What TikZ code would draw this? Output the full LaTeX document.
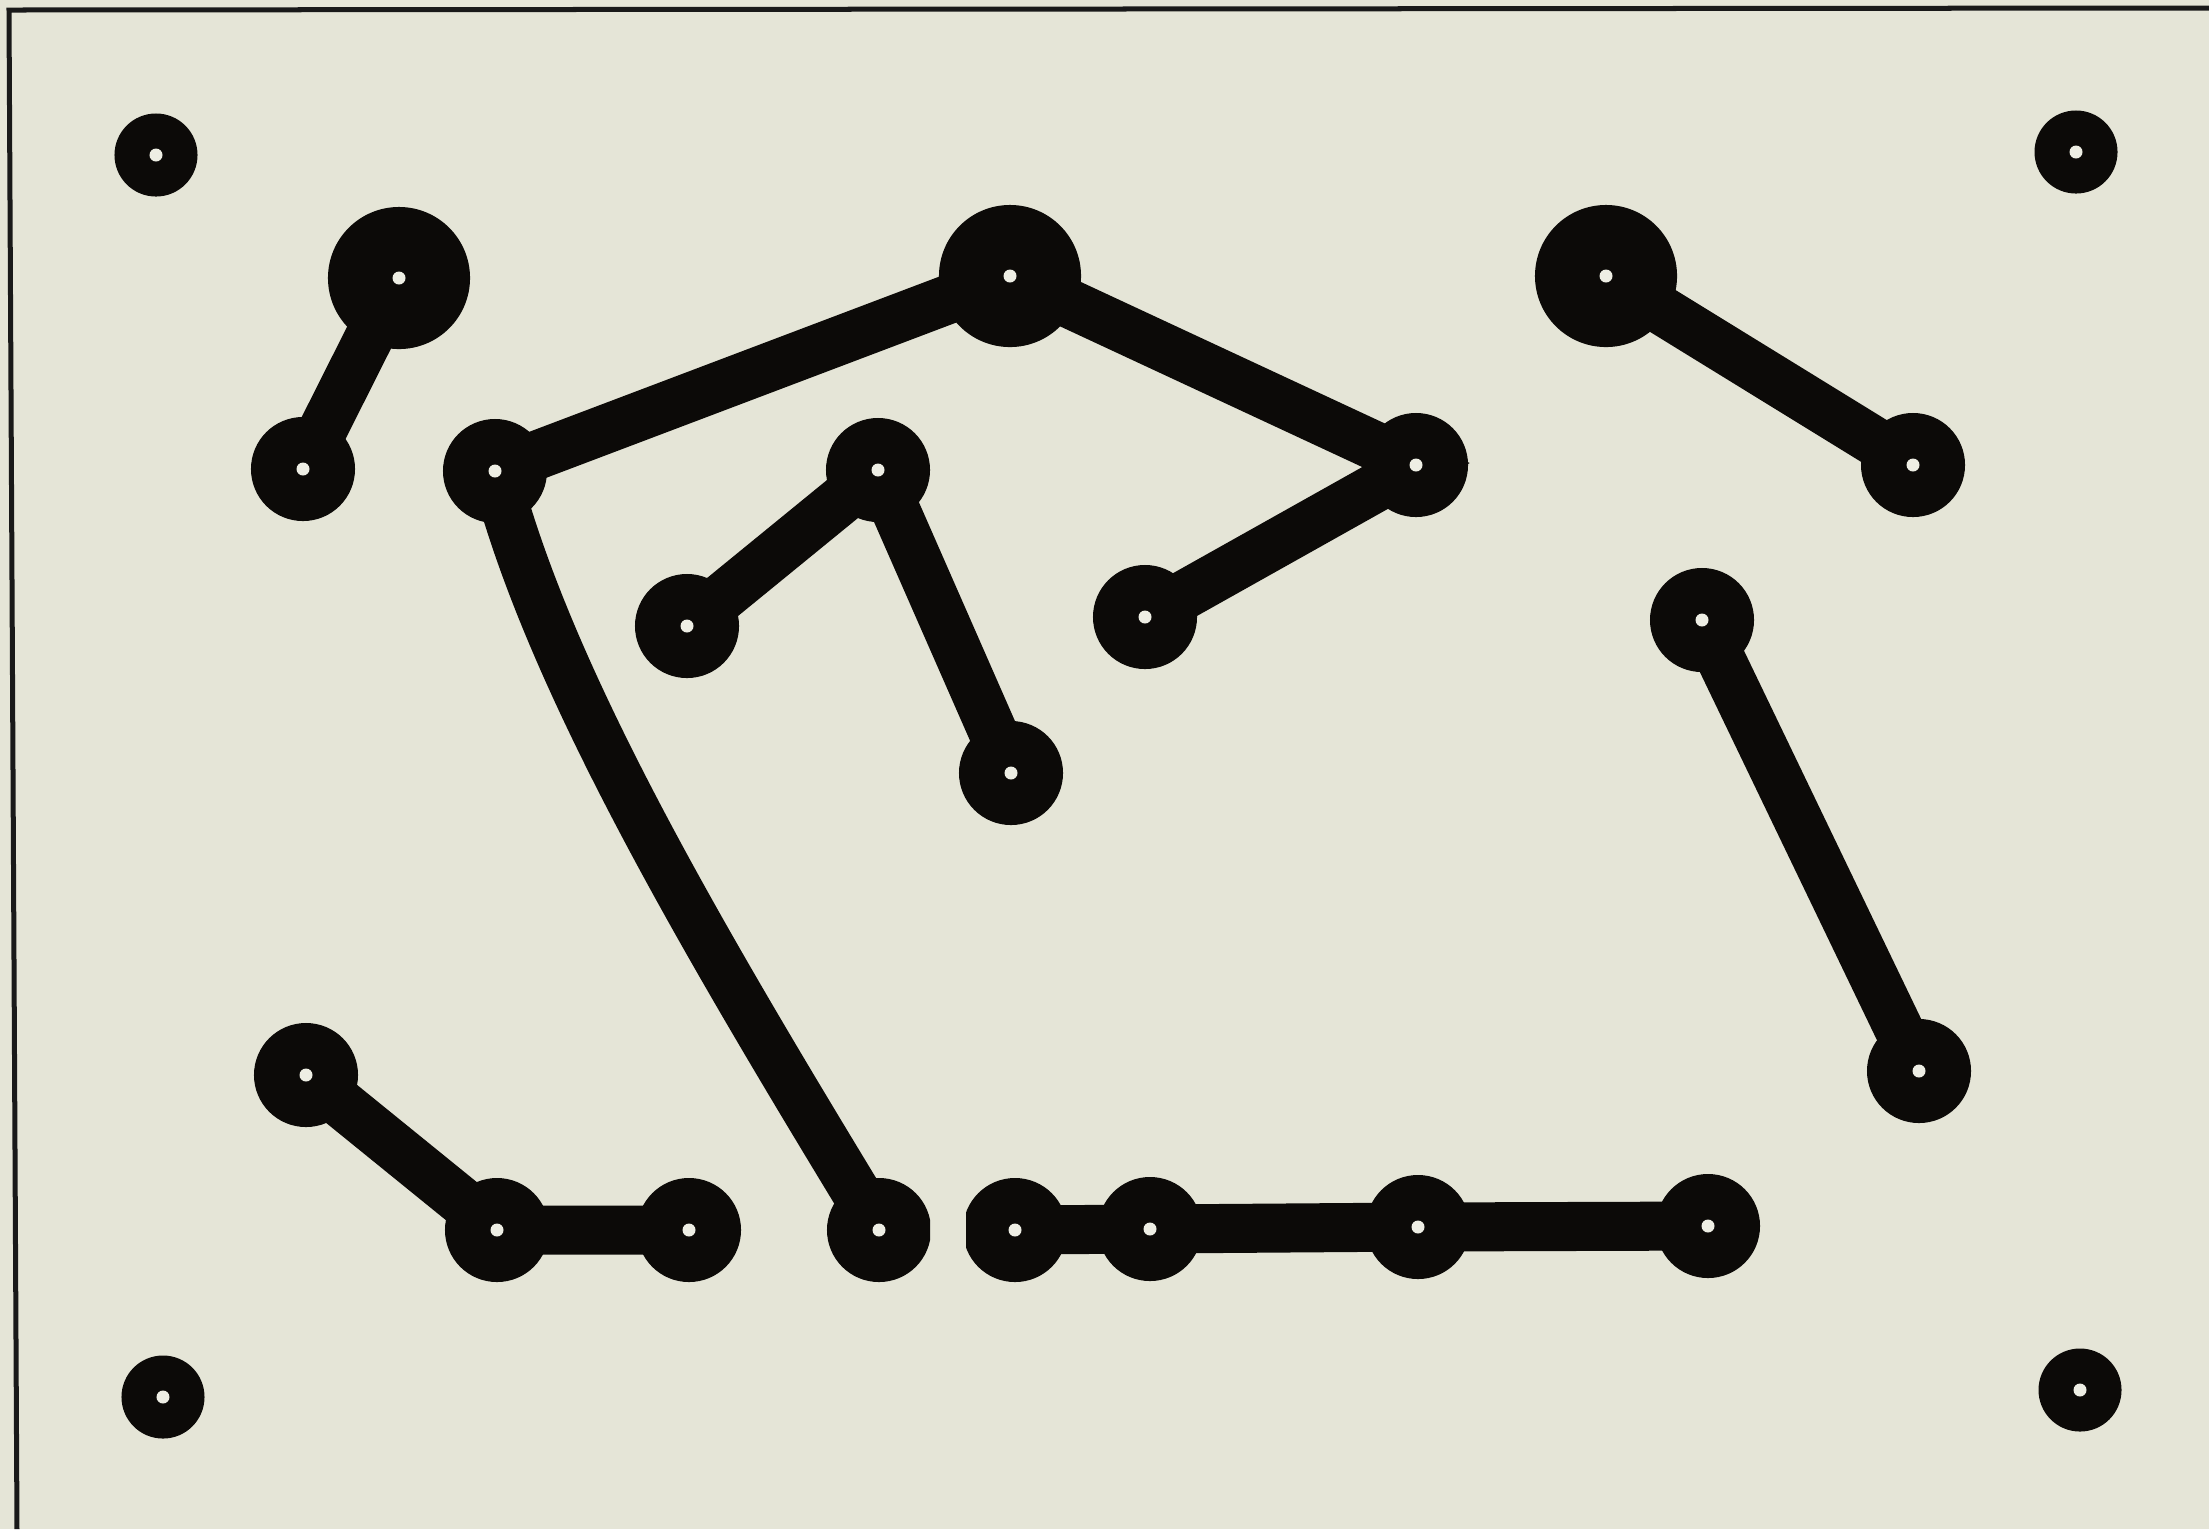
\documentclass[tikz,border=0pt]{standalone}
\definecolor{board}{RGB}{229,229,215}
\definecolor{padblack}{RGB}{12,10,8}
\definecolor{holecol}{RGB}{238,238,228}
\begin{document}
\begin{tikzpicture}[x=0.01cm,y=-0.01cm,
  pad/.style={circle,fill=padblack,inner sep=0pt,minimum size=1.04cm},
  bigpad/.style={pad,minimum size=1.42cm},
  mount/.style={pad,minimum size=0.83cm},
  track/.style={draw=padblack,line width=0.49cm,line cap=butt},
  frameline/.style={draw=black!90,line width=0.05cm}]
\fill[board] (0,0) rectangle (2209,1529);
\useasboundingbox (0,0) rectangle (2209,1529);
% frame
\coordinate (fc) at (9,10);
\coordinate (fr) at (2209,8);
\coordinate (fb) at (17,1529);
\draw[frameline] (fr) -- (fc) -- (fb);
% mounting holes
\node[mount] (m1) at (156,155) {};
\node[mount] (m2) at (2076,152) {};
\node[mount] (m3) at (163,1397) {};
\node[mount] (m4) at (2080,1390) {};
% large pads
\node[bigpad] (p5) at (399,278) {};
\node[bigpad] (p8) at (1010,276) {};
\node[bigpad] (p9) at (1606,276) {};
% pads
\node[pad] (p6) at (303,469) {};
\node[pad] (p7) at (495,471) {};
\node[pad] (p10) at (1416,465) {};
\node[pad] (p11) at (1913,465) {};
\node[pad] (p12) at (878,470) {};
\node[pad] (p13) at (687,626) {};
\node[pad] (p14) at (1145,617) {};
\node[pad] (p15) at (1011,773) {};
\node[pad] (p16) at (1702,620) {};
\node[pad] (p17) at (1919,1071) {};
\node[pad] (p18) at (306,1075) {};
\node[pad] (p19) at (497,1230) {};
\node[pad] (p20) at (689,1230) {};
\begin{scope}
  \clip (800,1150) rectangle (930,1300);
  \node[pad] (p21) at (879,1230) {};
\end{scope}
\begin{scope}
  \clip (966,1150) rectangle (1090,1300);
  \node[pad] (p22) at (1015,1230) {};
\end{scope}
\node[pad] (p23) at (1150,1229) {};
\node[pad] (p24) at (1418,1227) {};
\node[pad] (p25) at (1708,1226) {};
% tracks
\draw[track] (p5.center) -- (p6.center);
\draw[track] (p7.center) -- (p8.center) -- (p10.center) -- (p14.center);
\draw[track] (p9.center) -- (p11.center);
\draw[track] (p13.center) -- (p12.center) -- (p15.center);
\draw[track] (p16.center) -- (p17.center);
\draw[track] (p7.center) .. controls (550,684) and (708,949) .. (p21.center);
\draw[track] (p18.center) -- (p19.center) -- (p20.center);
\draw[track] (p22.center) -- (p23.center) -- (p24.center) -- (p25.center);
% drill holes
\foreach \p in {m1,m2,m3,m4,p5,p6,p7,p8,p9,p10,p11,p12,p13,p14,p15,p16,p17,p18,p19,p20,p21,p22,p23,p24,p25}
  \fill[holecol] (\p.center) circle[radius=0.065cm];
\end{tikzpicture}
\end{document}
